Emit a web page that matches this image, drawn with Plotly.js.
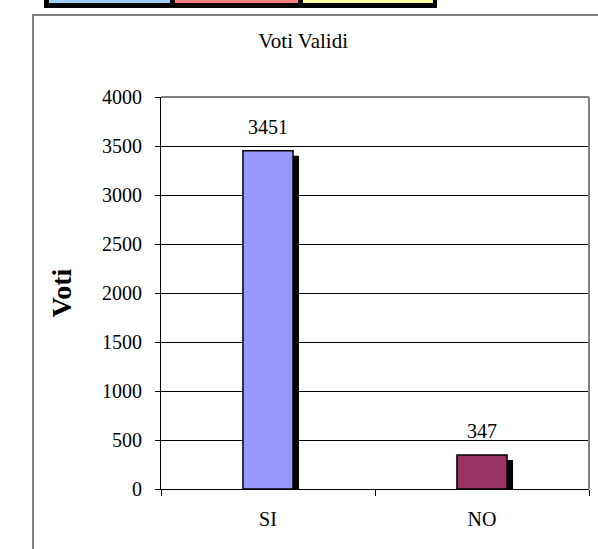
<!DOCTYPE html>
<html>
<head>
<meta charset="utf-8">
<script src="https://cdn.plot.ly/plotly-3.0.1.min.js"></script>
<style>
  html, body { margin: 0; padding: 0; background: #ffffff; width: 598px; height: 549px; overflow: hidden; }
  #frame { position: absolute; left: 32px; top: 14px; width: 620px; height: 600px;
           border-left: 2px solid #808080; border-top: 2px solid #808080; box-sizing: border-box; }
  #band { position: absolute; left: 44px; top: 0px; width: 393px; height: 8px; background: #000; }
  .sw { position: absolute; top: 0px; height: 3px; }
  #chart { position: absolute; left: 0; top: 0; width: 598px; height: 549px; }
</style>
</head>
<body>
<div id="band">
  <div class="sw" style="left:5px;width:121px;background:#99CCFF"></div>
  <div class="sw" style="left:131px;width:123px;background:#FF8080"></div>
  <div class="sw" style="left:259px;width:130px;background:#FFFF99"></div>
</div>
<div id="frame"></div>
<div id="chart"></div>
<script>
// ---- data ----
const categories = ["SI", "NO"];
const votes = [3451, 347];
const barColors = ["#9999FF", "#993366"];
const yTickValues = [0, 500, 1000, 1500, 2000, 2500, 3000, 3500, 4000];
const chartTitle = "Voti Validi";
const yTitle = "Voti";

// ---- layout helpers ----
const FONT = "Liberation Serif";
const plotHeightPx = 392;
const yMax = 4000;
const shadowDropPx = 5;
const shadowDrop = shadowDropPx * yMax / plotHeightPx;
const barW = 0.234;
const shadowShift = 0.028;

const shadow = {
  type: "bar",
  x: categories,
  y: votes.map(v => v - shadowDrop),
  width: barW,
  offset: -barW / 2 + shadowShift,
  marker: { color: "#000000", line: { width: 0 } },
  hoverinfo: "skip",
  showlegend: false
};

const bars = {
  type: "bar",
  x: categories,
  y: votes,
  width: barW,
  offset: -barW / 2,
  marker: { color: barColors, line: { color: "#000000", width: 1.5 } },
  showlegend: false
};

const annotations = categories.map((c, i) => ({
  x: c, y: votes[i], xref: "x", yref: "y",
  text: String(votes[i]), showarrow: false,
  yanchor: "bottom", yshift: 11,
  font: { family: FONT, size: 20, color: "#000" }
}));

const layout = {
  width: 598, height: 549,
  margin: { l: 161, r: 9, t: 97, b: 60 },
  paper_bgcolor: "rgba(0,0,0,0)",
  plot_bgcolor: "#ffffff",
  font: { family: FONT, size: 20, color: "#000" },
  barmode: "overlay",
  showlegend: false,
  title: {
    text: chartTitle,
    xref: "container", yref: "container",
    x: 0.507, xanchor: "center",
    y: 1 - 41 / 549, yanchor: "middle",
    font: { family: FONT, size: 21, color: "#000" }
  },
  xaxis: {
    type: "category",
    range: [-0.5, 1.5],
    tickson: "boundaries",
    ticks: "outside", ticklen: 6, tickcolor: "#000", tickwidth: 1,
    showline: true, linecolor: "#000", linewidth: 1,
    showgrid: false, zeroline: false,
    ticklabelstandoff: 12,
    tickfont: { family: FONT, size: 20, color: "#000" },
    fixedrange: true
  },
  yaxis: {
    range: [0, yMax],
    tickvals: yTickValues,
    ticks: "outside", ticklen: 5, tickcolor: "#000", tickwidth: 1,
    showline: true, linecolor: "#000", linewidth: 1,
    showgrid: true, gridcolor: "#000", gridwidth: 1,
    zeroline: false,
    ticklabelstandoff: 9,
    tickfont: { family: FONT, size: 20, color: "#000" },
    title: { text: "<b>" + yTitle + "</b>", standoff: 22,
             font: { family: FONT, size: 28, color: "#000" } },
    automargin: false,
    fixedrange: true
  },
  shapes: [
    { type: "line", xref: "paper", yref: "paper", x0: 0, x1: 1, y0: 1, y1: 1,
      line: { color: "#808080", width: 2 } },
    { type: "line", xref: "paper", yref: "paper", x0: 1, x1: 1, y0: 0, y1: 1,
      line: { color: "#808080", width: 2 } }
  ],
  annotations: annotations
};

Plotly.newPlot("chart", [shadow, bars], layout, { displayModeBar: false, staticPlot: true });
</script>
</body>
</html>
